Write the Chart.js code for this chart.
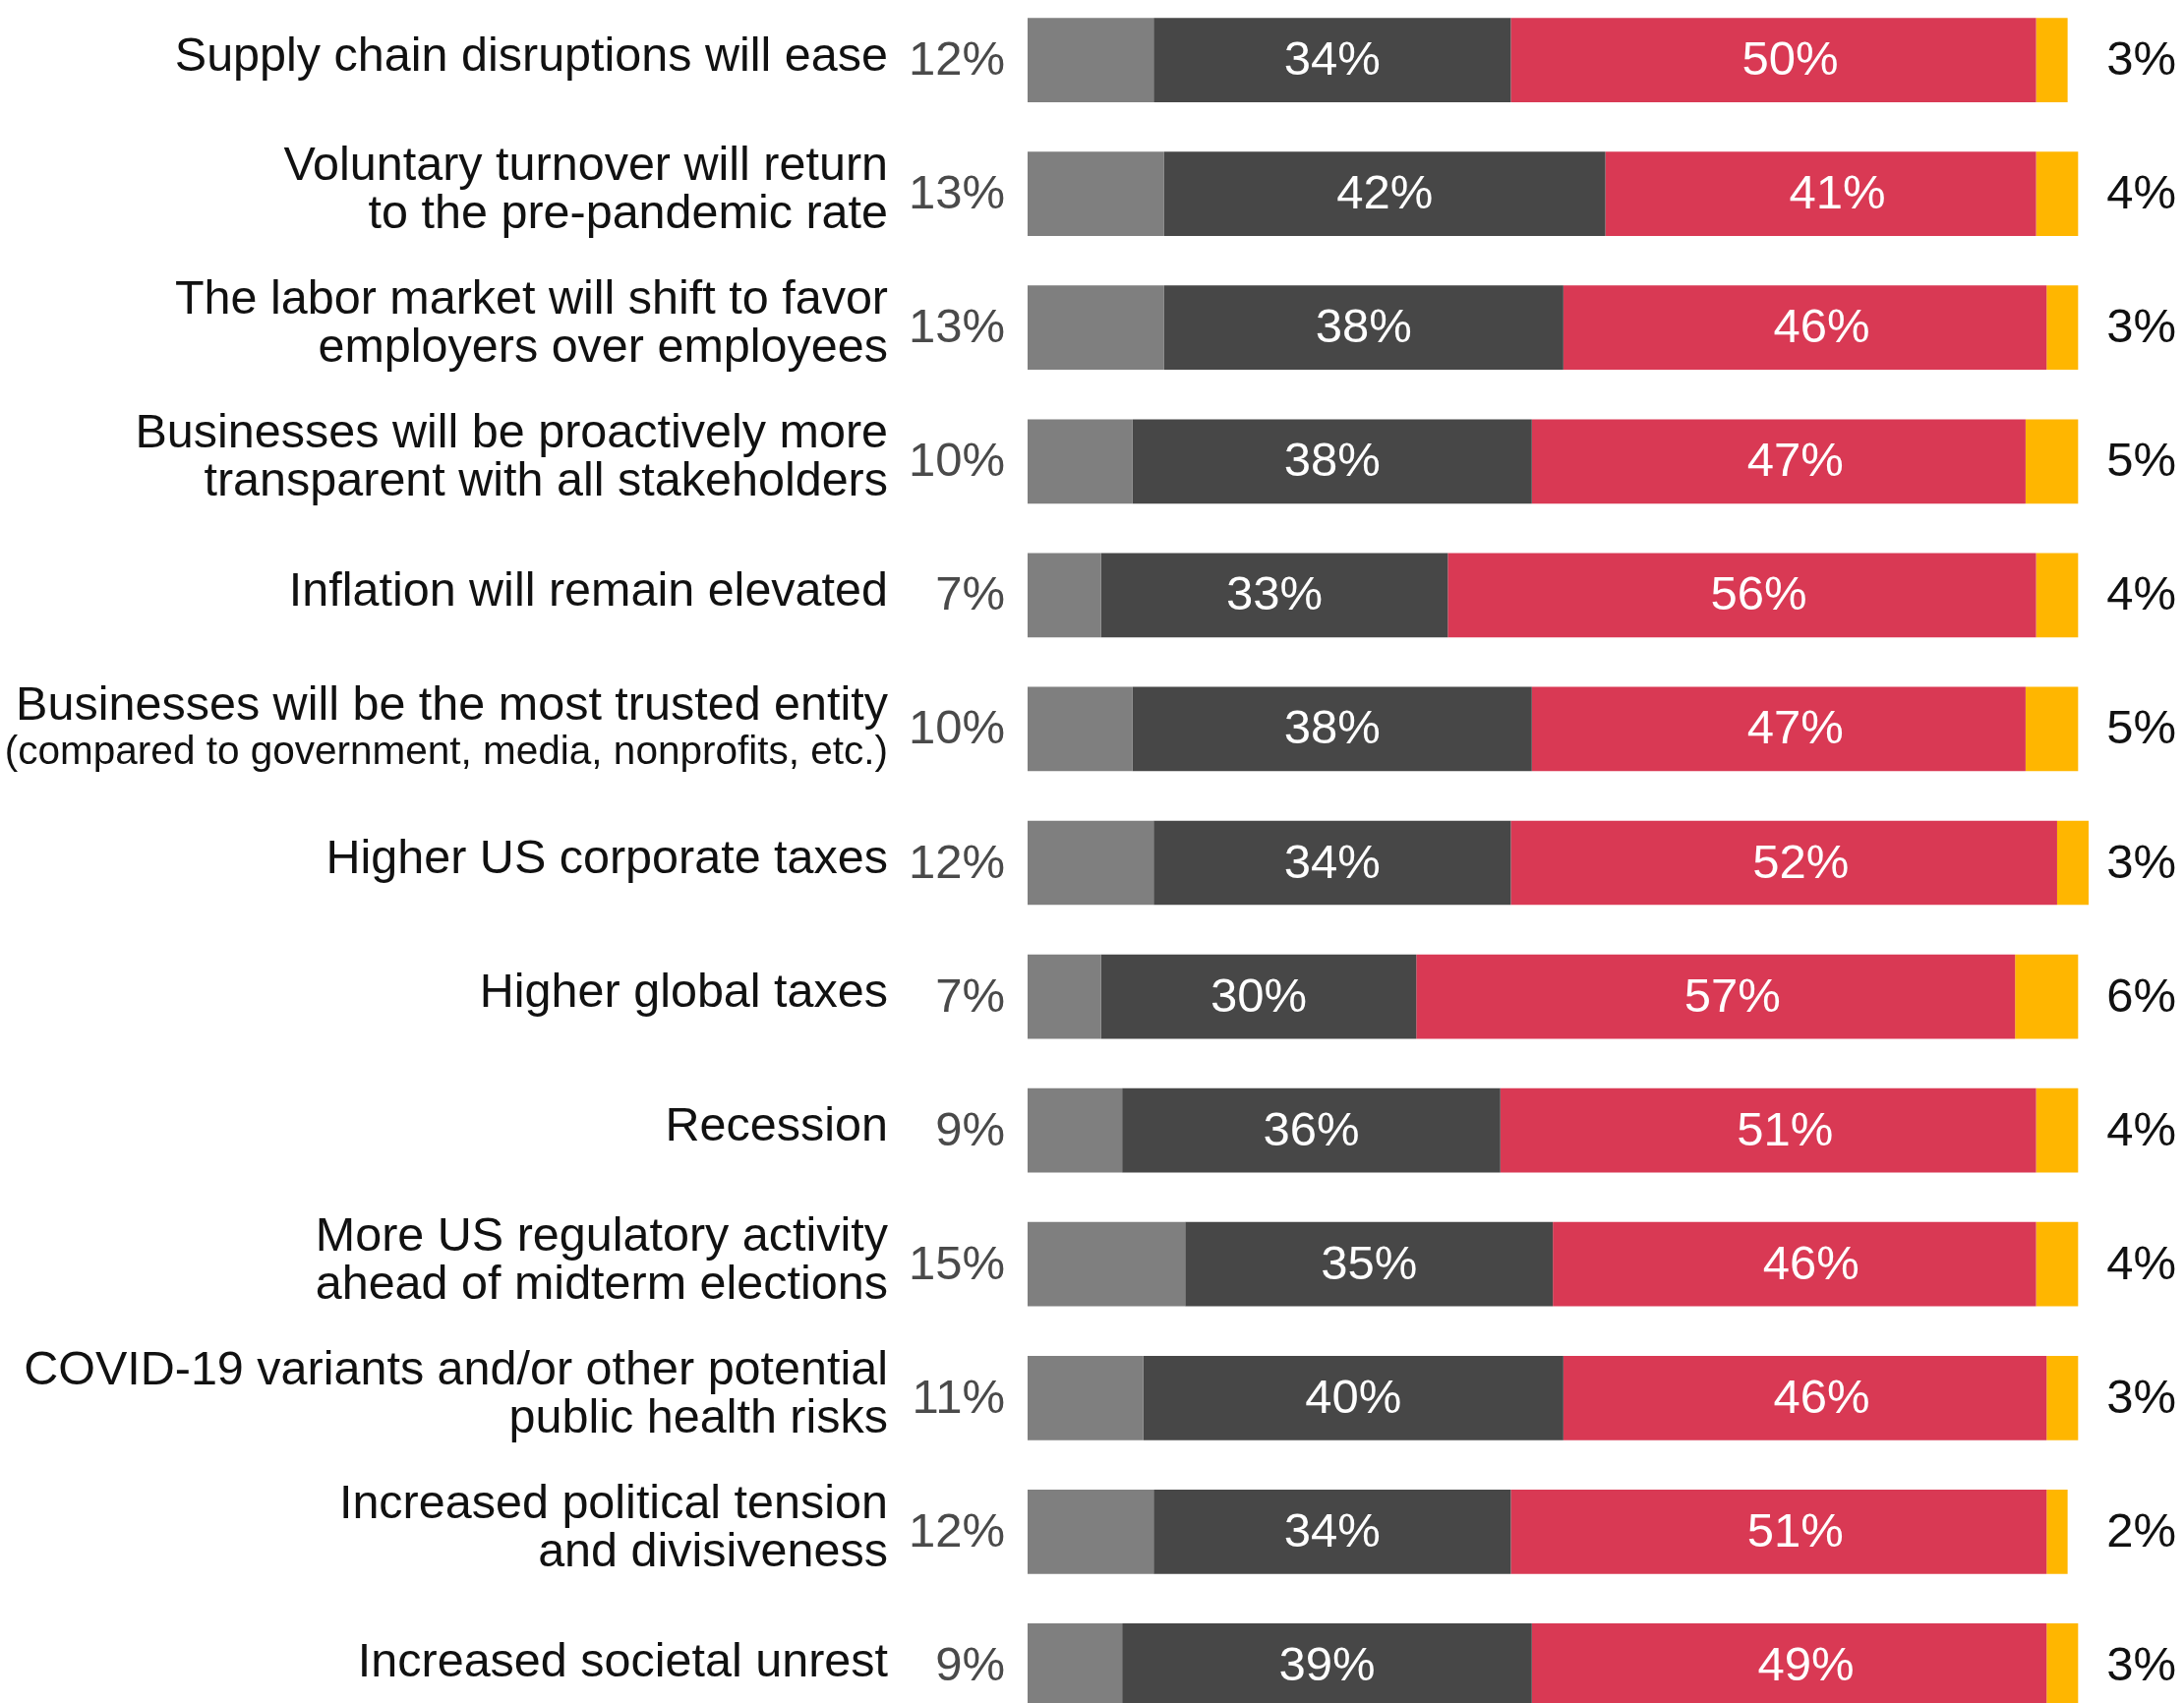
<!DOCTYPE html>
<html><head><meta charset="utf-8">
<script src="https://cdn.jsdelivr.net/npm/chart.js@4.4.1/dist/chart.umd.min.js"></script>
<style>
html,body{margin:0;padding:0;background:#fff;overflow:hidden;width:2221px;height:1732px;}
#wrap{position:absolute;left:0;top:-7px;width:2221px;height:1769px;}
</style></head><body>
<div id="wrap"><canvas id="c"></canvas></div>
<script>
const categories = [
  ["Supply chain disruptions will ease"],
  ["Voluntary turnover will return", "to the pre-pandemic rate"],
  ["The labor market will shift to favor", "employers over employees"],
  ["Businesses will be proactively more", "transparent with all stakeholders"],
  ["Inflation will remain elevated"],
  ["Businesses will be the most trusted entity"],
  ["Higher US corporate taxes"],
  ["Higher global taxes"],
  ["Recession"],
  ["More US regulatory activity", "ahead of midterm elections"],
  ["COVID-19 variants and/or other potential", "public health risks"],
  ["Increased political tension", "and divisiveness"],
  ["Increased societal unrest"]
];
const categoryNotes = ["", "", "", "", "", "(compared to government, media, nonprofits, etc.)", "", "", "", "", "", "", ""];

const seriesNames = ["Segment 1", "Segment 2", "Segment 3", "Segment 4"];
const lightValues  = [12, 13, 13, 10, 7, 10, 12, 7, 9, 15, 11, 12, 9];
const darkValues   = [34, 42, 38, 38, 33, 38, 34, 30, 36, 35, 40, 34, 39];
const redValues    = [50, 41, 46, 47, 56, 47, 52, 57, 51, 46, 46, 51, 49];
const yellowValues = [3, 4, 3, 5, 4, 5, 3, 6, 4, 4, 3, 2, 3];

const FONT = '"Liberation Sans", Arial, Helvetica, sans-serif';
const colors = ["#7f7f7f", "#474747", "#d93954", "#ffb600"];

const labelPlugin = {
  id: 'labelPlugin',
  afterDatasetsDraw(chart) {
    const ctx = chart.ctx;
    const yScale = chart.scales.y;
    const left = chart.chartArea.left;
    ctx.save();
    ctx.textBaseline = 'alphabetic';
    // category labels
    categories.forEach((lines, i) => {
      const yc = yScale.getPixelForValue(i);
      const note = categoryNotes[i];
      ctx.fillStyle = '#111111';
      ctx.textAlign = 'right';
      const lx = left - 142;
      if (note) {
        ctx.font = '48.5px ' + FONT;
        ctx.fillText(lines[0], lx, yc - 9.5);
        ctx.font = '40.5px ' + FONT;
        ctx.fillText(note, lx, yc + 36);
      } else {
        ctx.font = '48.5px ' + FONT;
        const n = lines.length;
        lines.forEach((t, k) => {
          ctx.fillText(t, lx, yc + 10.7 + (k - (n - 1) / 2) * 49);
        });
      }
    });
    // value labels
    ctx.font = '49px ' + FONT;
    chart.data.datasets.forEach((ds, di) => {
      const meta = chart.getDatasetMeta(di);
      meta.data.forEach((bar, i) => {
        const v = ds.data[i];
        const txt = v + '%';
        const y = bar.y + 15;
        if (di === 0) {
          ctx.fillStyle = '#4a4a4a';
          ctx.textAlign = 'right';
          ctx.fillText(txt, Math.min(bar.base, bar.x) - 23, y);
        } else if (di === 3) {
          ctx.fillStyle = '#111111';
          ctx.textAlign = 'right';
          ctx.fillText(txt, chart.width - 8, y);
        } else {
          ctx.fillStyle = '#ffffff';
          ctx.textAlign = 'center';
          const shift = di === 2 ? 17 : 0;
          ctx.fillText(txt, (bar.x + bar.base) / 2 + shift, y);
        }
      });
    });
    ctx.restore();
  }
};

const valueSets = [lightValues, darkValues, redValues, yellowValues];
new Chart(document.getElementById('c'), {
  type: 'bar',
  data: {
    labels: categories.map(l => l.join(' ')),
    datasets: valueSets.map((vals, i) => ({
      label: seriesNames[i],
      data: vals,
      backgroundColor: colors[i],
      borderWidth: 0,
      barPercentage: 0.63,
      categoryPercentage: 1.0,
      clip: false
    }))
  },
  options: {
    indexAxis: 'y',
    responsive: true,
    maintainAspectRatio: false,
    animation: false,
    layout: { padding: { left: 1045, right: 97, top: 0, bottom: 0 } },
    scales: {
      x: { stacked: true, min: 0, max: 101, display: false },
      y: { stacked: true, display: false }
    },
    plugins: { legend: { display: false }, tooltip: { enabled: false } }
  },
  plugins: [labelPlugin]
});
</script>
</body></html>
